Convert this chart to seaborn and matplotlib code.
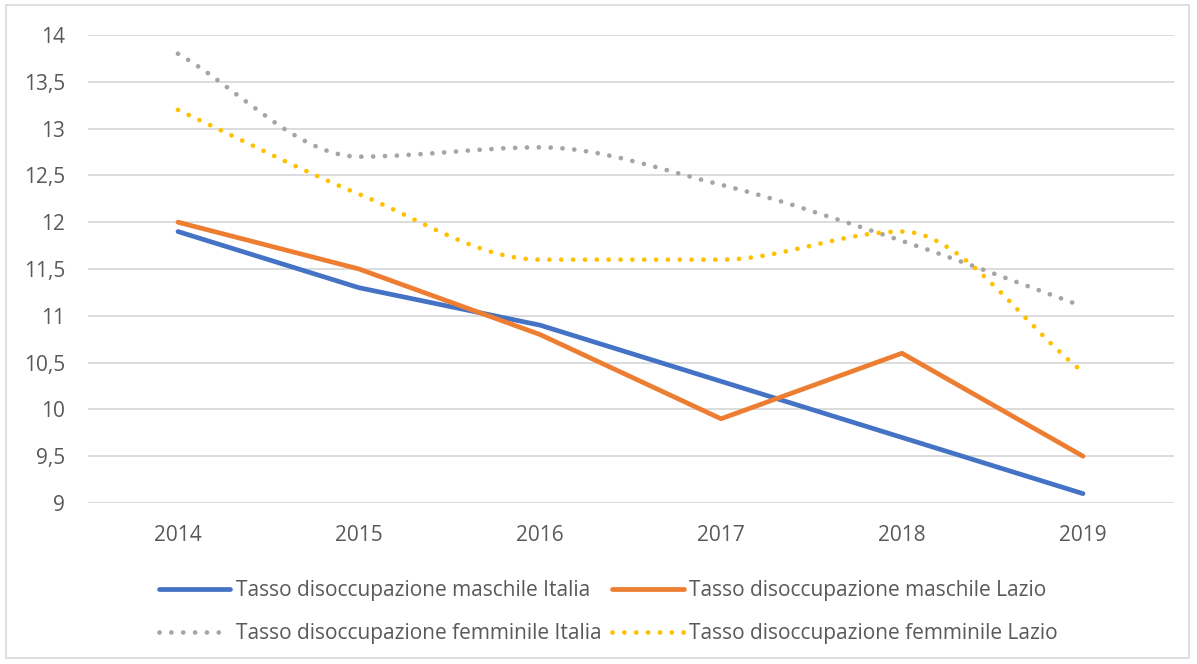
import numpy as np
import pandas as pd
import seaborn as sns
import matplotlib.pyplot as plt
from matplotlib.path import Path
from matplotlib.patches import PathPatch, Rectangle
from matplotlib.lines import Line2D
from matplotlib.ticker import FuncFormatter

# data
anni = ['2014', '2015', '2016', '2017', '2018', '2019']
maschile_italia = [11.9, 11.3, 10.9, 10.3, 9.7, 9.1]
maschile_lazio = [12.0, 11.5, 10.8, 9.9, 10.6, 9.5]
femminile_italia = [13.8, 12.7, 12.8, 12.4, 11.8, 11.1]
femminile_lazio = [13.2, 12.3, 11.6, 11.6, 11.9, 10.4]

nomi = ['Tasso disoccupazione maschile Italia', 'Tasso disoccupazione maschile Lazio',
        'Tasso disoccupazione femminile Italia', 'Tasso disoccupazione femminile Lazio']
colori = ['#4472C4', '#ED7D31', '#A5A5A5', '#FFC000']

sns.set_theme(style='white')
plt.rcParams['font.family'] = ['Open Sans', 'DejaVu Sans']

fig = plt.figure(figsize=(11.97, 6.64), dpi=100)
ax = fig.add_axes([87.5 / 1197, 1 - 503 / 664, 1086 / 1197, 468 / 664])

# solid lines (male) via seaborn
df = pd.DataFrame({'anno': list(range(len(anni))) * 2,
                   'valore': maschile_italia + maschile_lazio,
                   'serie': [nomi[0]] * len(anni) + [nomi[1]] * len(anni)})
sns.lineplot(data=df, x='anno', y='valore', hue='serie', palette=colori[:2],
             linewidth=3.4, legend=False, ax=ax, zorder=3)
for l in ax.lines:
    l.set_solid_capstyle('round')
    l.set_solid_joinstyle('round')


# smoothed dotted lines: monotone tangents (flat at local peaks), drawn as bezier
def curva_liscia(vals):
    y = np.array(vals, dtype=float)
    n = len(y)
    d = np.diff(y)
    m = np.zeros(n)
    m[0], m[-1] = d[0], d[-1]
    for i in range(1, n - 1):
        if d[i - 1] * d[i] > 0:
            m[i] = 2 * d[i - 1] * d[i] / (d[i - 1] + d[i])
    verts = [(0, y[0])]
    codes = [Path.MOVETO]
    for i in range(n - 1):
        verts += [(i + 1 / 3, y[i] + m[i] / 3), (i + 2 / 3, y[i + 1] - m[i + 1] / 3), (i + 1, y[i + 1])]
        codes += [Path.CURVE4] * 3
    return Path(verts, codes)


dots = (0, (0.01, 2.5))
for vals, col in [(femminile_italia, colori[2]), (femminile_lazio, colori[3])]:
    patch = PathPatch(curva_liscia(vals), fill=False, edgecolor=col, linewidth=3.4,
                      linestyle=dots, capstyle='round', zorder=3)
    ax.add_patch(patch)

ax.set_xlim(-0.5, len(anni) - 0.5)
ax.set_ylim(9, 14)
ax.set_yticks(np.arange(9, 14.01, 0.5))
ax.set_xticks(range(len(anni)))
ax.set_xticklabels(anni)
ax.yaxis.set_major_formatter(FuncFormatter(lambda v, p: ('%g' % v).replace('.', ',')))
ax.grid(axis='y', color='#D9D9D9', linewidth=1.3)
ax.set_axisbelow(True)
sns.despine(ax=ax, left=True, bottom=True, top=True, right=True)
ax.tick_params(axis='both', colors='#595959', labelsize=15, length=0)
ax.tick_params(axis='y', pad=16)
ax.tick_params(axis='x', pad=15.5)
ax.set_xlabel('')
ax.set_ylabel('')
for l in ax.lines:
    l.set_clip_on(False)

# legend (filled column-wise, so order gives rows: maschile / femminile)
h = [Line2D([], [], color=colori[0], lw=3.4, solid_capstyle='round'),
     Line2D([], [], color=colori[1], lw=3.4, solid_capstyle='round'),
     Line2D([], [], color=colori[2], lw=3.4, linestyle=dots, dash_capstyle='round'),
     Line2D([], [], color=colori[3], lw=3.4, linestyle=dots, dash_capstyle='round')]
ordine = [0, 2, 1, 3]
fig.legend([h[i] for i in ordine], [nomi[i] for i in ordine], ncol=2, loc='center',
           bbox_to_anchor=(608 / 1197, 1 - 612 / 664),
           frameon=False, fontsize=15, labelcolor='#595959', handlelength=3.45,
           handletextpad=0.25, columnspacing=0.5, labelspacing=1.05)

# outer chart border
fig.patches.append(Rectangle((6 / 1197, 6 / 664), 1183 / 1197, 653 / 664, transform=fig.transFigure,
                             fill=False, edgecolor='#D9D9D9', linewidth=1.2))

fig.savefig('out.png', dpi=100, facecolor='white')
